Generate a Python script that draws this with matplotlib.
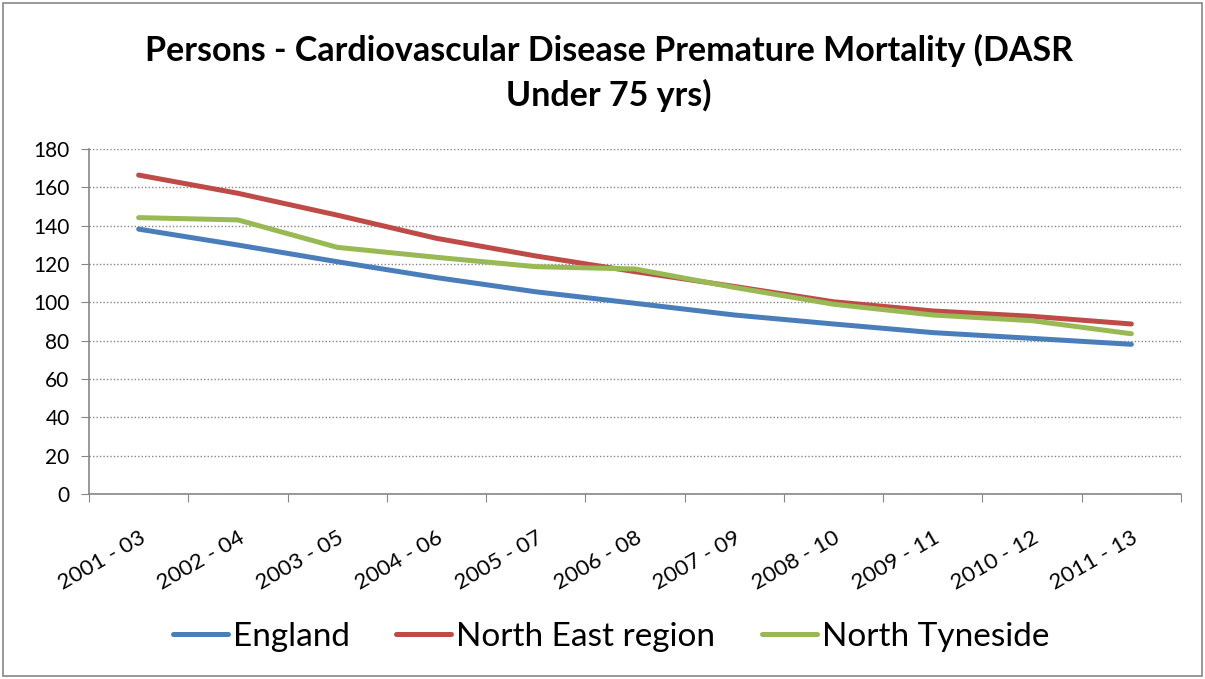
import matplotlib.pyplot as plt
from matplotlib.patches import Rectangle
import numpy as np

plt.rcParams['font.family'] = ['Lato', 'DejaVu Sans']

periods = ['2001 - 03', '2002 - 04', '2003 - 05', '2004 - 06', '2005 - 07', '2006 - 08',
           '2007 - 09', '2008 - 10', '2009 - 11', '2010 - 12', '2011 - 13']
england = [138.2, 129.9, 121.2, 112.9, 105.5, 99.5, 93.4, 88.7, 84.2, 81.2, 78.1]
north_east = [166.4, 156.9, 145.5, 133.4, 124.2, 116.0, 108.3, 100.3, 95.5, 92.7, 88.7]
north_tyneside = [144.2, 143.0, 128.7, 123.5, 118.6, 117.4, 107.8, 99.0, 93.4, 90.4, 83.6]

fig = plt.figure(figsize=(12.05, 6.79), dpi=100)
ax = fig.add_axes([89 / 1205, 1 - 494 / 679, (1181 - 89) / 1205, (494 - 149) / 679])

x = np.arange(len(periods))
ax.plot(x, england, color='#4A7EBB', lw=3.6, label='England', solid_capstyle='round')
ax.plot(x, north_east, color='#BE4B48', lw=3.6, label='North East region', solid_capstyle='round')
ax.plot(x, north_tyneside, color='#98B954', lw=3.6, label='North Tyneside', solid_capstyle='round')

ax.set_xlim(-0.5, len(periods) - 0.5)
ax.set_ylim(0, 180)
ax.set_yticks(range(0, 181, 20))
ax.yaxis.grid(True, linestyle=(0, (1, 1.5)), color='#868686', lw=1)
ax.set_axisbelow(True)

# category ticks sit between the categories, labels at the centres
ax.set_xticks(np.arange(-0.5, len(periods), 1.0))
ax.set_xticklabels([])
ax.set_xticks(x, minor=True)
ax.set_xticklabels(periods, minor=True, rotation=30, ha='right', rotation_mode='anchor', fontsize=16)
ax.tick_params(axis='x', which='minor', length=0, pad=24)
ax.tick_params(axis='x', which='major', length=6, color='#868686')
ax.tick_params(axis='y', length=6, color='#868686', labelsize=15, pad=8)

for side in ['top', 'right']:
    ax.spines[side].set_visible(False)
for side in ['left', 'bottom']:
    ax.spines[side].set_color('#868686')
    ax.spines[side].set_linewidth(1.2)

fig.suptitle('Persons - Cardiovascular Disease Premature Mortality (DASR\nUnder 75 yrs)',
             x=0.505, y=0.95, fontsize=24.5, fontweight='bold', linespacing=1.42)

fig.legend(loc='center', bbox_to_anchor=(0.507, 1 - 637 / 679), ncol=3, frameon=False,
           fontsize=24, handlelength=1.65, handletextpad=0.15, columnspacing=1.4)

# chart border
fig.patches.append(Rectangle((3 / 1205, 3 / 679), 1 - 6 / 1205, 1 - 6 / 679, transform=fig.transFigure,
                             fill=False, edgecolor='#868686', lw=1.2))

fig.savefig('out.png', dpi=100)
